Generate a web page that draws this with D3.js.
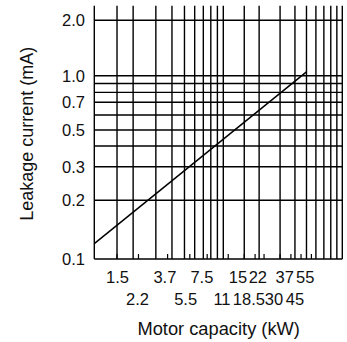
<!DOCTYPE html>
<html><head><meta charset="utf-8">
<script src="https://cdnjs.cloudflare.com/ajax/libs/d3/7.8.5/d3.min.js"></script>
<style>html,body{margin:0;padding:0;background:#fff;}svg{display:block;}</style>
</head><body>
<script>
// ---- data ----
const xTickValues = [1.5, 2.2, 3.7, 5.5, 7.5, 11, 15, 18.5, 22, 30, 37, 45, 55];
const xTickLabels = ["1.5", "2.2", "3.7", "5.5", "7.5", "11", "15", "18.5", "22", "30", "37", "45", "55"];
const xGridValues = [1, 1.5, 2, 3, 4, 5, 6, 7, 8, 9, 10, 15, 20, 30, 40, 50, 60, 70, 80, 90, 100];
const yGridValues = [0.2, 0.3, 0.4, 0.5, 0.6, 0.7, 0.8, 0.9, 1.0, 2.0];
const yTickValues = [0.1, 0.2, 0.3, 0.5, 0.7, 1.0, 2.0];
const yTickLabels = ["0.1", "0.2", "0.3", "0.5", "0.7", "1.0", "2.0"];
const motorKW = [1, 50];
const leakageMA = [0.12, 1.05];

// ---- layout ----
const W = 347, H = 342;
const plotLeft = 94.3, plotRight = 342.3, plotBottom = 259;
const yTopValue = 2.4;

const x = d3.scaleLog().domain([1, 10, 100]).range([plotLeft, 223.3, plotRight]);
const xLabel = d3.scaleLog().domain([1.5, 11, 55]).range([117.5, 222, 305.3]);
const y = d3.scaleLog().domain([0.1, 0.2, 0.3, 0.5, 0.7, 1.0, 2.0])
  .range([plotBottom, 200.3, 166.7, 130, 102.3, 75.7, 20.3]);
const plotTop = y(yTopValue);

const svg = d3.select("body").append("svg").attr("width", W).attr("height", H);
const g = svg.append("g");
const stroke = "#000", sw = 1.4;

// horizontal grid
g.selectAll("line.hg").data(yGridValues).enter().append("line")
  .attr("x1", plotLeft).attr("x2", plotRight)
  .attr("y1", d => y(d)).attr("y2", d => y(d))
  .attr("stroke", stroke).attr("stroke-width", sw);

// vertical grid
g.selectAll("line.vg").data(xGridValues).enter().append("line")
  .attr("x1", d => x(d)).attr("x2", d => x(d))
  .attr("y1", plotTop).attr("y2", plotBottom)
  .attr("stroke", stroke).attr("stroke-width", sw);

// bottom axis line
g.append("line").attr("x1", plotLeft).attr("x2", plotRight)
  .attr("y1", y(0.1)).attr("y2", y(0.1))
  .attr("stroke", stroke).attr("stroke-width", sw);

// short ticks at motor capacities
g.selectAll("line.tk").data(xTickValues).enter().append("line")
  .attr("x1", d => x(d)).attr("x2", d => x(d))
  .attr("y1", plotBottom).attr("y2", plotBottom - 5)
  .attr("stroke", stroke).attr("stroke-width", 1.2);

// data line
const line = d3.line().x(d => x(d[0])).y(d => y(d[1]));
g.append("path").datum(motorKW.map((v, i) => [v, leakageMA[i]]))
  .attr("d", line).attr("fill", "none")
  .attr("stroke", stroke).attr("stroke-width", 1.5);

const font = "'Liberation Sans', Arial, Helvetica, sans-serif";

// y tick labels
g.selectAll("text.yl").data(yTickValues).enter().append("text")
  .attr("x", 85).attr("y", d => y(d)).attr("dy", "0.36em")
  .attr("text-anchor", "end").attr("font-family", font).attr("font-size", 16.5)
  .attr("fill", "#111")
  .text((d, i) => yTickLabels[i]);

// x tick labels (two staggered rows)
g.selectAll("text.xl").data(xTickValues).enter().append("text")
  .attr("x", d => xLabel(d))
  .attr("y", (d, i) => i % 2 === 0 ? 282.7 : 304.5)
  .attr("text-anchor", "middle").attr("font-family", font).attr("font-size", 16.5)
  .attr("fill", "#111")
  .text((d, i) => xTickLabels[i]);

// axis titles
svg.append("text").attr("x", 218.7).attr("y", 335)
  .attr("text-anchor", "middle").attr("font-family", font).attr("font-size", 18.3)
  .attr("fill", "#111").text("Motor capacity (kW)");
svg.append("text").attr("transform", "translate(32.7,133.7) rotate(-90)")
  .attr("text-anchor", "middle").attr("font-family", font).attr("font-size", 18)
  .attr("fill", "#111").text("Leakage current (mA)");
</script>
</body></html>
